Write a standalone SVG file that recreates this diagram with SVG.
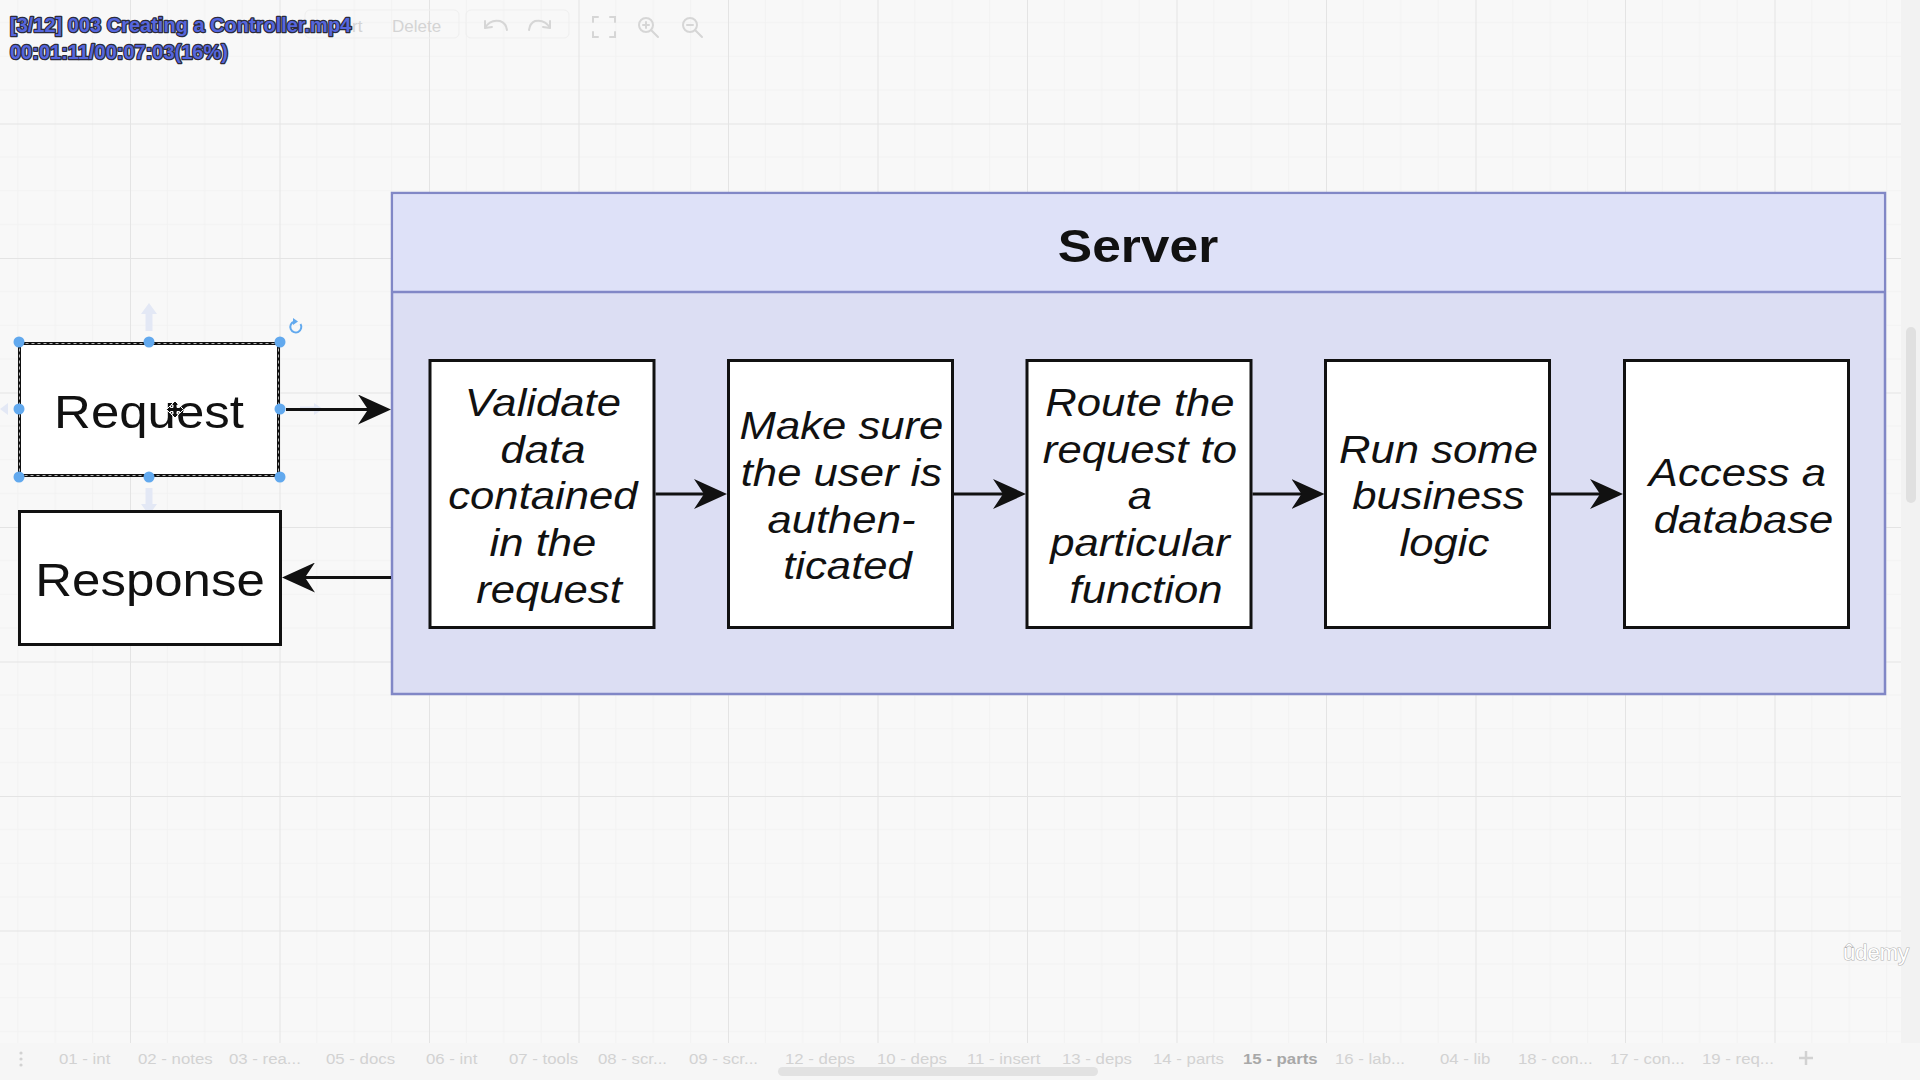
<svg xmlns="http://www.w3.org/2000/svg" width="1920" height="1080" viewBox="0 0 1920 1080">
  <defs>
    <pattern id="grid" patternUnits="userSpaceOnUse" x="130" y="123.5" width="149.5" height="134.5">
      <path d="M37.4 0V134.5M74.8 0V134.5M112.1 0V134.5M0 33.6H149.5M0 67.3H149.5M0 100.9H149.5" stroke="#f2f2f2" stroke-width="1" fill="none"/>
      <path d="M0.5 0V134.5M0 0.5H149.5" stroke="#e4e4e4" stroke-width="1" fill="none"/>
    </pattern>
    <marker id="arrow" viewBox="0 0 33 30" refX="21" refY="15" markerWidth="33" markerHeight="30" markerUnits="userSpaceOnUse" orient="auto">
      <path d="M0,0 L33,15 L0,30 L10,15 Z" fill="#111"/>
    </marker>
    <style>
      .box { fill: #ffffff; stroke: #111; stroke-width: 3; }
      .step { font-family: "Liberation Sans", Arial, sans-serif; font-style: italic; font-size: 39px; fill: #111; text-anchor: middle; }
      .label { font-family: "Liberation Sans", Arial, sans-serif; font-size: 45.5px; fill: #111; text-anchor: middle; }
      .title { font-family: "Liberation Sans", Arial, sans-serif; font-weight: bold; font-size: 46px; fill: #111; text-anchor: middle; }
      .edge { stroke: #111; stroke-width: 3; fill: none; marker-end: url(#arrow); }
      .handle { fill: #62a9ee; }
      .ghost { fill: #e3e8f5; }
      .ui { font-family: "Liberation Sans", Arial, sans-serif; font-size: 17px; fill: #d4d4d4; }
      .tab { font-family: "Liberation Sans", Arial, sans-serif; font-size: 15px; fill: #d2d2d2; }
      .icon { fill: none; stroke: #d6d6d6; stroke-width: 2; stroke-linecap: round; }
      .osd { font-family: "Liberation Sans", Arial, sans-serif; font-weight: bold; font-size: 20px; fill: #5566dd; stroke: #2b2b3a; stroke-width: 2.5; paint-order: stroke; stroke-linejoin: round; }
    </style>
  </defs>

  <!-- canvas -->
  <rect x="0" y="0" width="1920" height="1080" fill="#f8f8f8"/>
  <rect x="0" y="0" width="1901" height="1043" fill="url(#grid)"/>
  <rect x="1901" y="0" width="19" height="1043" fill="#f2f2f2"/>
  <rect x="1906" y="327" width="10" height="176" rx="5" fill="#e0e0e0"/>

  <!-- toolbar (faded) -->
  <g id="toolbar">
    <rect x="305" y="10" width="154" height="28" rx="5" fill="none" stroke="#efefef"/>
    <rect x="466" y="10" width="103" height="28" rx="5" fill="none" stroke="#efefef"/>
    <text class="ui" x="352" y="32">rt</text>
    <text class="ui" x="392" y="32">Delete</text>
    <path class="icon" d="M485 28 Q490 19 500 21 Q506 23 507 30 M485 28 L485 21 M485 28 L492 27"/>
    <path class="icon" d="M550 28 Q545 19 535 21 Q530 23 529 30 M550 28 L550 21 M550 28 L543 27"/>
    <path class="icon" d="M593 22V17H598M610 17H615V22M615 32V37H610M598 37H593V32"/>
    <circle class="icon" cx="646" cy="25" r="7"/>
    <path class="icon" d="M651 30L658 37M643 25H649M646 22V28"/>
    <circle class="icon" cx="690" cy="25" r="7"/>
    <path class="icon" d="M695 30L702 37M687 25H693"/>
  </g>

  <!-- Server container -->
  <g id="server">
    <rect x="392" y="193" width="1493" height="501" fill="#dcdef3" stroke="#8187c6" stroke-width="2.5"/>
    <rect x="393.25" y="194.25" width="1490.5" height="97" fill="#dee1f8"/>
    <line x1="392" y1="292" x2="1885" y2="292" stroke="#8187c6" stroke-width="2.5"/>
    <text class="title" transform="translate(1138,262) scale(1.12,1)">Server</text>
  </g>

  <!-- Request (selected) -->
  <g id="request">
    <rect x="19.5" y="343.5" width="259" height="132" fill="#ffffff" stroke="#111" stroke-width="3"/>
    <rect x="19.5" y="343.5" width="259" height="132" fill="none" stroke="#ffffff" stroke-width="1" stroke-dasharray="3 3" opacity="0.7"/>
    <text class="label" transform="translate(149,428) scale(1.12,1)">Request</text>
    <!-- move cursor -->
    <path d="M175 401 L179 405 H177 V407.5 H179.5 V405.5 L183.5 409.5 L179.5 413.5 V411.5 H177 V414 H179 L175 418 L171 414 H173 V411.5 H170.5 V413.5 L166.5 409.5 L170.5 405.5 V407.5 H173 V405 H171 Z" fill="#111" stroke="#fff" stroke-width="1"/>
    <!-- selection handles -->
    <circle class="handle" cx="19" cy="342" r="5.5"/>
    <circle class="handle" cx="149" cy="342" r="5.5"/>
    <circle class="handle" cx="280" cy="342" r="5.5"/>
    <circle class="handle" cx="19" cy="409" r="5.5"/>
    <circle class="handle" cx="280" cy="409" r="5.5"/>
    <circle class="handle" cx="19" cy="477" r="5.5"/>
    <circle class="handle" cx="149" cy="477" r="5.5"/>
    <circle class="handle" cx="280" cy="477" r="5.5"/>
    <!-- rotate handle -->
    <path d="M300.5 324 A5.5 5.5 0 1 1 294 321.7" fill="none" stroke="#62a9ee" stroke-width="2"/>
    <path d="M293 318 L298 321.5 L293 325 Z" fill="#62a9ee"/>
    <!-- hover arrows -->
    <path class="ghost" d="M149 303 L157 314 H152.5 V331 H145.5 V314 H141 Z"/>
    <path class="ghost" d="M149 515 L157 504 H152.5 V488 H145.5 V504 H141 Z"/>
    <path class="ghost" d="M323 409 L314 403 V406.5 H300 V411.5 H314 V415 Z"/>
    <path class="ghost" d="M0 409 L8 403 V415 Z"/>
  </g>

  <!-- Response -->
  <g id="response">
    <rect x="19.5" y="511.5" width="261" height="133" fill="#ffffff" stroke="#111" stroke-width="3"/>
    <text class="label" transform="translate(150,596) scale(1.12,1)">Response</text>
  </g>

  <!-- processing steps -->
  <g id="validate">
    <rect class="box" x="430" y="360.5" width="224" height="267"/>
    <text class="step" transform="translate(549,0) scale(1.12,1)">
      <tspan x="0" y="416">Validate</tspan>
      <tspan x="0" y="463">data</tspan>
      <tspan x="0" y="509">contained</tspan>
      <tspan x="0" y="556">in the</tspan>
      <tspan x="0" y="603">request</tspan>
    </text>
  </g>
  <g id="authenticate">
    <rect class="box" x="728.5" y="360.5" width="224" height="267"/>
    <text class="step" transform="translate(847.5,0) scale(1.12,1)">
      <tspan x="0" y="439">Make sure</tspan>
      <tspan x="0" y="486">the user is</tspan>
      <tspan x="0" y="533">authen-</tspan>
      <tspan x="0" y="579">ticated</tspan>
    </text>
  </g>
  <g id="route">
    <rect class="box" x="1027" y="360.5" width="224" height="267"/>
    <text class="step" transform="translate(1146,0) scale(1.12,1)">
      <tspan x="0" y="416">Route the</tspan>
      <tspan x="0" y="463">request to</tspan>
      <tspan x="0" y="509">a</tspan>
      <tspan x="0" y="556">particular</tspan>
      <tspan x="0" y="603">function</tspan>
    </text>
  </g>
  <g id="business-logic">
    <rect class="box" x="1325.5" y="360.5" width="224" height="267"/>
    <text class="step" transform="translate(1444.5,0) scale(1.12,1)">
      <tspan x="0" y="463">Run some</tspan>
      <tspan x="0" y="509">business</tspan>
      <tspan x="0" y="556">logic</tspan>
    </text>
  </g>
  <g id="database">
    <rect class="box" x="1624.5" y="360.5" width="224" height="267"/>
    <text class="step" transform="translate(1743.5,0) scale(1.12,1)">
      <tspan x="0" y="486">Access a</tspan>
      <tspan x="0" y="533">database</tspan>
    </text>
  </g>

  <!-- connectors -->
  <g id="connectors">
    <path class="edge" d="M286 409.5 H379"/>
    <path class="edge" d="M391 577.5 H294"/>
    <path class="edge" d="M655.5 494 H715"/>
    <path class="edge" d="M954 494 H1014"/>
    <path class="edge" d="M1252.5 494 H1312.5"/>
    <path class="edge" d="M1551 494 H1611"/>
  </g>

  <!-- page tabs -->
  <g id="tabs">
    <rect x="0" y="1043" width="1920" height="37" fill="#f6f6f6"/>
    <circle cx="21" cy="1053" r="1.6" fill="#d2d2d2"/>
    <circle cx="21" cy="1059" r="1.6" fill="#d2d2d2"/>
    <circle cx="21" cy="1065" r="1.6" fill="#d2d2d2"/>
    <text class="tab" transform="translate(59,1064) scale(1.12,1)">01 - int</text>
    <text class="tab" transform="translate(138,1064) scale(1.12,1)">02 - notes</text>
    <text class="tab" transform="translate(229,1064) scale(1.12,1)">03 - rea...</text>
    <text class="tab" transform="translate(326,1064) scale(1.12,1)">05 - docs</text>
    <text class="tab" transform="translate(426,1064) scale(1.12,1)">06 - int</text>
    <text class="tab" transform="translate(509,1064) scale(1.12,1)">07 - tools</text>
    <text class="tab" transform="translate(598,1064) scale(1.12,1)">08 - scr...</text>
    <text class="tab" transform="translate(689,1064) scale(1.12,1)">09 - scr...</text>
    <text class="tab" transform="translate(785,1064) scale(1.12,1)">12 - deps</text>
    <text class="tab" transform="translate(877,1064) scale(1.12,1)">10 - deps</text>
    <text class="tab" transform="translate(967,1064) scale(1.12,1)">11 - insert</text>
    <text class="tab" transform="translate(1062,1064) scale(1.12,1)">13 - deps</text>
    <text class="tab" transform="translate(1153,1064) scale(1.12,1)">14 - parts</text>
    <text class="tab" transform="translate(1243,1064) scale(1.12,1)" style="font-weight:bold;fill:#a8a8a8">15 - parts</text>
    <text class="tab" transform="translate(1335,1064) scale(1.12,1)">16 - lab...</text>
    <text class="tab" transform="translate(1440,1064) scale(1.12,1)">04 - lib</text>
    <text class="tab" transform="translate(1518,1064) scale(1.12,1)">18 - con...</text>
    <text class="tab" transform="translate(1610,1064) scale(1.12,1)">17 - con...</text>
    <text class="tab" transform="translate(1702,1064) scale(1.12,1)">19 - req...</text>
    <path d="M1806 1051V1065M1799 1058H1813" stroke="#d2d2d2" stroke-width="2.5"/>
    <rect x="778" y="1067" width="320" height="9" rx="4.5" fill="#e2e2e2"/>
  </g>

  <!-- player overlay -->
  <text class="osd" x="10" y="32">[3/12] 003 Creating a Controller.mp4</text>
  <text class="osd" x="10" y="59">00:01:11/00:07:03(16%)</text>
  <text x="1843" y="960" font-family="Liberation Sans, Arial, sans-serif" font-size="22" fill="#ffffff" stroke="#b4b4b4" stroke-width="1.2" paint-order="stroke">ûdemy</text>
</svg>
